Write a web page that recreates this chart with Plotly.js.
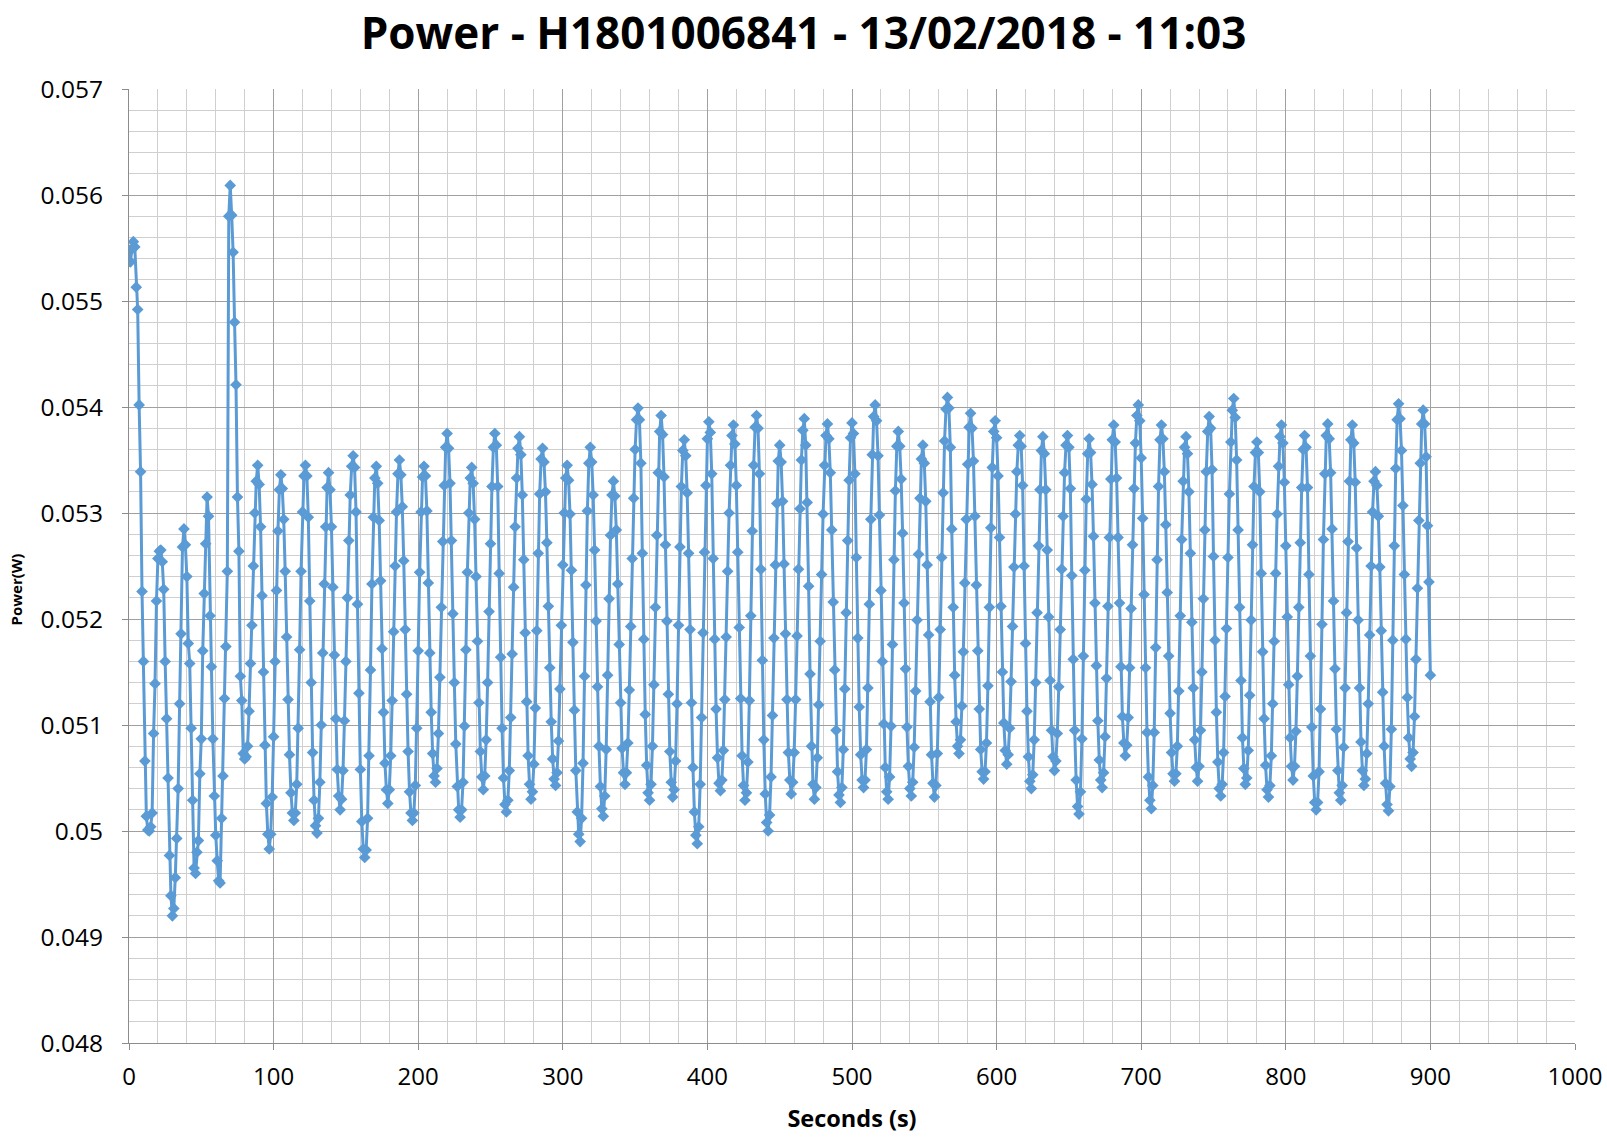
<!DOCTYPE html>
<html>
<head>
<meta charset="utf-8">
<script src="https://cdn.plot.ly/plotly-3.0.1.min.js"></script>
<style>
  html, body { margin: 0; padding: 0; background: #ffffff; }
  #chart { width: 1607px; height: 1137px; }
</style>
</head>
<body>
<div id="chart"></div>
<script>
const chartTitle = 'Power - H1801006841 - 13/02/2018 - 11:03';
const xAxisLabel = 'Seconds (s)';
const yAxisLabel = 'Power(W)';

// sampling clock of the logger: one reading per second, starting at 0 s
const firstSecond = 0;
const secondsPerSample = 1;

// Power readings (W), one per second
const powerW = [
  /*   0 */ 0.05548, 0.05537, 0.05549, 0.05556, 0.05551, 0.05513, 0.05492, 0.05402, 0.05339, 0.05226,
  /*  10 */ 0.05160, 0.05066, 0.05014, 0.05001, 0.05000, 0.05004, 0.05017, 0.05092, 0.05139, 0.05217,
  /*  20 */ 0.05257, 0.05264, 0.05265, 0.05254, 0.05228, 0.05160, 0.05106, 0.05050, 0.04977, 0.04939,
  /*  30 */ 0.04920, 0.04927, 0.04956, 0.04993, 0.05040, 0.05120, 0.05186, 0.05268, 0.05285, 0.05270,
  /*  40 */ 0.05240, 0.05177, 0.05158, 0.05097, 0.05029, 0.04965, 0.04960, 0.04980, 0.04991, 0.05054,
  /*  50 */ 0.05087, 0.05170, 0.05224, 0.05271, 0.05315, 0.05297, 0.05203, 0.05155, 0.05087, 0.05033,
  /*  60 */ 0.04996, 0.04972, 0.04953, 0.04951, 0.05012, 0.05052, 0.05125, 0.05174, 0.05245, 0.05580,
  /*  70 */ 0.05609, 0.05581, 0.05546, 0.05480, 0.05421, 0.05315, 0.05264, 0.05146, 0.05123, 0.05073,
  /*  80 */ 0.05068, 0.05070, 0.05080, 0.05113, 0.05158, 0.05194, 0.05250, 0.05300, 0.05330, 0.05345,
  /*  90 */ 0.05327, 0.05287, 0.05222, 0.05150, 0.05081, 0.05026, 0.04997, 0.04983, 0.04997, 0.05032,
  /* 100 */ 0.05089, 0.05160, 0.05227, 0.05283, 0.05322, 0.05336, 0.05323, 0.05294, 0.05245, 0.05183,
  /* 110 */ 0.05124, 0.05072, 0.05036, 0.05017, 0.05010, 0.05017, 0.05044, 0.05097, 0.05171, 0.05245,
  /* 120 */ 0.05301, 0.05335, 0.05345, 0.05335, 0.05296, 0.05217, 0.05140, 0.05074, 0.05029, 0.05005,
  /* 130 */ 0.04998, 0.05012, 0.05046, 0.05100, 0.05168, 0.05233, 0.05287, 0.05324, 0.05338, 0.05322,
  /* 140 */ 0.05287, 0.05230, 0.05166, 0.05106, 0.05058, 0.05033, 0.05020, 0.05030, 0.05057, 0.05104,
  /* 150 */ 0.05160, 0.05220, 0.05274, 0.05317, 0.05344, 0.05354, 0.05343, 0.05301, 0.05214, 0.05130,
  /* 160 */ 0.05058, 0.05009, 0.04983, 0.04975, 0.04982, 0.05012, 0.05071, 0.05152, 0.05233, 0.05296,
  /* 170 */ 0.05333, 0.05344, 0.05328, 0.05293, 0.05236, 0.05172, 0.05112, 0.05064, 0.05039, 0.05026,
  /* 180 */ 0.05039, 0.05071, 0.05123, 0.05188, 0.05250, 0.05301, 0.05337, 0.05350, 0.05336, 0.05306,
  /* 190 */ 0.05255, 0.05190, 0.05129, 0.05075, 0.05037, 0.05017, 0.05010, 0.05017, 0.05043, 0.05097,
  /* 200 */ 0.05170, 0.05244, 0.05301, 0.05334, 0.05344, 0.05335, 0.05302, 0.05234, 0.05168, 0.05112,
  /* 210 */ 0.05073, 0.05052, 0.05046, 0.05059, 0.05092, 0.05145, 0.05211, 0.05273, 0.05326, 0.05362,
  /* 220 */ 0.05375, 0.05361, 0.05328, 0.05274, 0.05205, 0.05140, 0.05082, 0.05042, 0.05020, 0.05013,
  /* 230 */ 0.05020, 0.05046, 0.05099, 0.05171, 0.05244, 0.05300, 0.05333, 0.05343, 0.05328, 0.05294,
  /* 240 */ 0.05240, 0.05179, 0.05121, 0.05075, 0.05051, 0.05039, 0.05052, 0.05086, 0.05140, 0.05207,
  /* 250 */ 0.05271, 0.05325, 0.05362, 0.05375, 0.05364, 0.05325, 0.05243, 0.05164, 0.05097, 0.05050,
  /* 260 */ 0.05025, 0.05018, 0.05029, 0.05057, 0.05107, 0.05167, 0.05230, 0.05287, 0.05333, 0.05361,
  /* 270 */ 0.05372, 0.05355, 0.05317, 0.05256, 0.05187, 0.05122, 0.05071, 0.05044, 0.05030, 0.05037,
  /* 280 */ 0.05063, 0.05116, 0.05189, 0.05262, 0.05318, 0.05351, 0.05361, 0.05348, 0.05320, 0.05272,
  /* 290 */ 0.05212, 0.05154, 0.05103, 0.05068, 0.05049, 0.05043, 0.05055, 0.05085, 0.05134, 0.05194,
  /* 300 */ 0.05251, 0.05300, 0.05333, 0.05345, 0.05331, 0.05299, 0.05246, 0.05178, 0.05114, 0.05057,
  /* 310 */ 0.05018, 0.04997, 0.04990, 0.05012, 0.05064, 0.05146, 0.05232, 0.05302, 0.05347, 0.05362,
  /* 320 */ 0.05348, 0.05317, 0.05265, 0.05198, 0.05136, 0.05080, 0.05042, 0.05021, 0.05014, 0.05033,
  /* 330 */ 0.05077, 0.05147, 0.05219, 0.05279, 0.05317, 0.05330, 0.05316, 0.05284, 0.05233, 0.05176,
  /* 340 */ 0.05121, 0.05078, 0.05055, 0.05044, 0.05055, 0.05083, 0.05133, 0.05193, 0.05257, 0.05314,
  /* 350 */ 0.05360, 0.05388, 0.05399, 0.05388, 0.05347, 0.05262, 0.05181, 0.05110, 0.05062, 0.05036,
  /* 360 */ 0.05029, 0.05044, 0.05080, 0.05138, 0.05211, 0.05279, 0.05338, 0.05377, 0.05392, 0.05374,
  /* 370 */ 0.05334, 0.05270, 0.05198, 0.05129, 0.05075, 0.05046, 0.05032, 0.05039, 0.05066, 0.05120,
  /* 380 */ 0.05194, 0.05268, 0.05325, 0.05359, 0.05369, 0.05354, 0.05319, 0.05262, 0.05190, 0.05121,
  /* 390 */ 0.05060, 0.05018, 0.04996, 0.04988, 0.05004, 0.05044, 0.05107, 0.05187, 0.05263, 0.05326,
  /* 400 */ 0.05370, 0.05386, 0.05376, 0.05337, 0.05257, 0.05181, 0.05115, 0.05069, 0.05045, 0.05038,
  /* 410 */ 0.05048, 0.05076, 0.05124, 0.05183, 0.05245, 0.05300, 0.05345, 0.05373, 0.05383, 0.05365,
  /* 420 */ 0.05326, 0.05263, 0.05192, 0.05125, 0.05071, 0.05043, 0.05029, 0.05036, 0.05065, 0.05123,
  /* 430 */ 0.05203, 0.05283, 0.05345, 0.05381, 0.05392, 0.05380, 0.05337, 0.05247, 0.05161, 0.05086,
  /* 440 */ 0.05035, 0.05008, 0.05000, 0.05015, 0.05051, 0.05109, 0.05182, 0.05251, 0.05309, 0.05349,
  /* 450 */ 0.05364, 0.05348, 0.05311, 0.05252, 0.05186, 0.05124, 0.05074, 0.05048, 0.05035, 0.05046,
  /* 460 */ 0.05074, 0.05124, 0.05184, 0.05247, 0.05304, 0.05350, 0.05378, 0.05389, 0.05364, 0.05310,
  /* 470 */ 0.05231, 0.05148, 0.05080, 0.05044, 0.05030, 0.05041, 0.05069, 0.05119, 0.05179, 0.05242,
  /* 480 */ 0.05299, 0.05345, 0.05373, 0.05384, 0.05370, 0.05338, 0.05284, 0.05216, 0.05152, 0.05095,
  /* 490 */ 0.05056, 0.05034, 0.05027, 0.05041, 0.05077, 0.05134, 0.05206, 0.05274, 0.05331, 0.05371,
  /* 500 */ 0.05385, 0.05375, 0.05337, 0.05258, 0.05182, 0.05117, 0.05072, 0.05048, 0.05041, 0.05048,
  /* 510 */ 0.05077, 0.05135, 0.05214, 0.05294, 0.05355, 0.05391, 0.05402, 0.05387, 0.05354, 0.05298,
  /* 520 */ 0.05227, 0.05160, 0.05101, 0.05060, 0.05037, 0.05030, 0.05051, 0.05099, 0.05176, 0.05256,
  /* 530 */ 0.05321, 0.05363, 0.05377, 0.05363, 0.05332, 0.05281, 0.05215, 0.05153, 0.05098, 0.05061,
  /* 540 */ 0.05040, 0.05033, 0.05046, 0.05079, 0.05132, 0.05199, 0.05261, 0.05314, 0.05351, 0.05364,
  /* 550 */ 0.05347, 0.05311, 0.05251, 0.05185, 0.05122, 0.05072, 0.05045, 0.05032, 0.05043, 0.05073,
  /* 560 */ 0.05126, 0.05190, 0.05258, 0.05319, 0.05368, 0.05398, 0.05409, 0.05399, 0.05362, 0.05285,
  /* 570 */ 0.05211, 0.05147, 0.05103, 0.05080, 0.05073, 0.05086, 0.05118, 0.05169, 0.05234, 0.05294,
  /* 580 */ 0.05346, 0.05381, 0.05394, 0.05380, 0.05349, 0.05297, 0.05232, 0.05170, 0.05115, 0.05077,
  /* 590 */ 0.05056, 0.05049, 0.05056, 0.05083, 0.05137, 0.05211, 0.05286, 0.05343, 0.05377, 0.05387,
  /* 600 */ 0.05371, 0.05335, 0.05277, 0.05212, 0.05150, 0.05102, 0.05076, 0.05063, 0.05072, 0.05097,
  /* 610 */ 0.05141, 0.05193, 0.05249, 0.05299, 0.05339, 0.05364, 0.05373, 0.05363, 0.05326, 0.05250,
  /* 620 */ 0.05177, 0.05113, 0.05070, 0.05047, 0.05040, 0.05053, 0.05086, 0.05140, 0.05206, 0.05269,
  /* 630 */ 0.05322, 0.05359, 0.05372, 0.05356, 0.05322, 0.05265, 0.05202, 0.05142, 0.05095, 0.05070,
  /* 640 */ 0.05057, 0.05066, 0.05092, 0.05136, 0.05190, 0.05247, 0.05297, 0.05338, 0.05364, 0.05373,
  /* 650 */ 0.05362, 0.05323, 0.05241, 0.05162, 0.05095, 0.05048, 0.05023, 0.05016, 0.05037, 0.05087,
  /* 660 */ 0.05165, 0.05246, 0.05313, 0.05356, 0.05370, 0.05357, 0.05327, 0.05278, 0.05215, 0.05156,
  /* 670 */ 0.05104, 0.05067, 0.05048, 0.05041, 0.05055, 0.05089, 0.05144, 0.05212, 0.05277, 0.05332,
  /* 680 */ 0.05369, 0.05383, 0.05367, 0.05333, 0.05277, 0.05215, 0.05155, 0.05108, 0.05083, 0.05071,
  /* 690 */ 0.05081, 0.05107, 0.05154, 0.05210, 0.05270, 0.05323, 0.05366, 0.05392, 0.05402, 0.05387,
  /* 700 */ 0.05352, 0.05295, 0.05223, 0.05154, 0.05093, 0.05051, 0.05029, 0.05021, 0.05043, 0.05093,
  /* 710 */ 0.05173, 0.05256, 0.05325, 0.05369, 0.05383, 0.05370, 0.05339, 0.05289, 0.05225, 0.05165,
  /* 720 */ 0.05111, 0.05074, 0.05054, 0.05047, 0.05054, 0.05080, 0.05132, 0.05203, 0.05275, 0.05330,
  /* 730 */ 0.05362, 0.05372, 0.05356, 0.05320, 0.05262, 0.05197, 0.05135, 0.05086, 0.05060, 0.05047,
  /* 740 */ 0.05061, 0.05095, 0.05150, 0.05219, 0.05284, 0.05339, 0.05377, 0.05391, 0.05380, 0.05341,
  /* 750 */ 0.05259, 0.05180, 0.05112, 0.05065, 0.05040, 0.05033, 0.05044, 0.05074, 0.05127, 0.05191,
  /* 760 */ 0.05258, 0.05318, 0.05367, 0.05397, 0.05408, 0.05390, 0.05350, 0.05284, 0.05211, 0.05142,
  /* 770 */ 0.05088, 0.05059, 0.05044, 0.05050, 0.05076, 0.05128, 0.05199, 0.05270, 0.05325, 0.05357,
  /* 780 */ 0.05367, 0.05357, 0.05320, 0.05243, 0.05169, 0.05106, 0.05062, 0.05039, 0.05032, 0.05043,
  /* 790 */ 0.05071, 0.05120, 0.05179, 0.05243, 0.05299, 0.05344, 0.05372, 0.05383, 0.05366, 0.05329,
  /* 800 */ 0.05269, 0.05202, 0.05138, 0.05088, 0.05061, 0.05048, 0.05061, 0.05094, 0.05146, 0.05211,
  /* 810 */ 0.05272, 0.05324, 0.05360, 0.05373, 0.05362, 0.05324, 0.05242, 0.05165, 0.05098, 0.05052,
  /* 820 */ 0.05027, 0.05020, 0.05027, 0.05056, 0.05115, 0.05195, 0.05275, 0.05337, 0.05373, 0.05384,
  /* 830 */ 0.05370, 0.05338, 0.05285, 0.05217, 0.05153, 0.05096, 0.05057, 0.05036, 0.05029, 0.05043,
  /* 840 */ 0.05079, 0.05135, 0.05206, 0.05273, 0.05330, 0.05369, 0.05383, 0.05366, 0.05329, 0.05267,
  /* 850 */ 0.05199, 0.05135, 0.05084, 0.05057, 0.05043, 0.05049, 0.05073, 0.05120, 0.05185, 0.05250,
  /* 860 */ 0.05301, 0.05330, 0.05339, 0.05326, 0.05297, 0.05249, 0.05189, 0.05131, 0.05080, 0.05045,
  /* 870 */ 0.05025, 0.05019, 0.05042, 0.05096, 0.05180, 0.05269, 0.05342, 0.05388, 0.05403, 0.05389,
  /* 880 */ 0.05359, 0.05307, 0.05242, 0.05181, 0.05126, 0.05088, 0.05068, 0.05061, 0.05074, 0.05108,
  /* 890 */ 0.05162, 0.05229, 0.05293, 0.05347, 0.05384, 0.05397, 0.05384, 0.05353, 0.05288, 0.05235,
  /* 900 */ 0.05147
];

const xTickValues = [0, 100, 200, 300, 400, 500, 600, 700, 800, 900, 1000];
const xTickLabels = ['0', '100', '200', '300', '400', '500', '600', '700', '800', '900', '1000'];
const yTickValues = [0.048, 0.049, 0.050, 0.051, 0.052, 0.053, 0.054, 0.055, 0.056, 0.057];
const yTickLabels = ['0.048', '0.049', '0.05', '0.051', '0.052', '0.053', '0.054', '0.055', '0.056', '0.057'];

const seriesColor = '#5B9BD5';
const fontFamily = '"Open Sans", "Liberation Sans", sans-serif';

const trace = {
  type: 'scatter',
  mode: 'lines+markers',
  y: powerW,
  x0: firstSecond,
  dx: secondsPerSample,
  line: { color: seriesColor, width: 3 },
  marker: { symbol: 'diamond', size: 9, color: seriesColor, line: { width: 0 } },
  hoverinfo: 'x+y'
};

const layout = {
  width: 1607,
  height: 1137,
  margin: { l: 129, r: 32, t: 89, b: 94 },
  paper_bgcolor: '#ffffff',
  plot_bgcolor: '#ffffff',
  showlegend: false,
  font: { family: fontFamily, color: '#000000', size: 24 },
  title: {
    text: chartTitle,
    font: { family: fontFamily, size: 44, weight: 700, color: '#000000' },
    x: 0.5, xref: 'container', xanchor: 'center',
    y: 1 - 34 / 1137, yref: 'container', yanchor: 'middle'
  },
  xaxis: {
    range: [0, 1000],
    tickmode: 'array',
    tickvals: xTickValues,
    ticktext: xTickLabels,
    tickfont: { size: 24, color: '#000000' },
    ticks: 'outside', ticklen: 6, tickcolor: '#8c8c8c', tickwidth: 1,
    ticklabelstandoff: 6,
    showline: true, linecolor: '#8c8c8c', linewidth: 1,
    showgrid: true, gridcolor: '#a0a0a0', gridwidth: 1,
    zeroline: false,
    minor: { dtick: 20, tick0: 0, showgrid: true, gridcolor: '#cfcfcf', gridwidth: 1, ticks: '' },
    title: { text: xAxisLabel, font: { size: 23.5, weight: 700, color: '#000000' }, standoff: 19 },
    fixedrange: true
  },
  yaxis: {
    range: [0.048, 0.057],
    tickmode: 'array',
    tickvals: yTickValues,
    ticktext: yTickLabels,
    tickfont: { size: 24.5, color: '#000000' },
    ticks: 'outside', ticklen: 6, tickcolor: '#8c8c8c', tickwidth: 1,
    ticklabelstandoff: 14,
    showline: true, linecolor: '#8c8c8c', linewidth: 1,
    showgrid: true, gridcolor: '#a0a0a0', gridwidth: 1,
    zeroline: false,
    minor: { dtick: 0.0002, tick0: 0.048, showgrid: true, gridcolor: '#cfcfcf', gridwidth: 1, ticks: '' },
    fixedrange: true
  },
  annotations: [
    {
      text: yAxisLabel,
      textangle: -90,
      xref: 'paper', yref: 'paper',
      x: (15.5 - 129) / 1446, xanchor: 'center',
      y: 1 - (590 - 89) / 954, yanchor: 'middle',
      showarrow: false,
      font: { family: fontFamily, size: 15, weight: 700, color: '#000000' }
    }
  ]
};

Plotly.newPlot('chart', [trace], layout, { displayModeBar: false, staticPlot: true });
</script>
</body>
</html>
